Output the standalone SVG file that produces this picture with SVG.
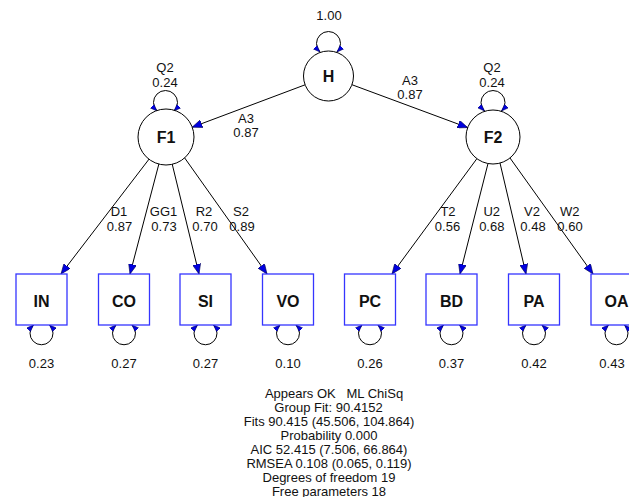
<svg xmlns="http://www.w3.org/2000/svg" width="629" height="497" viewBox="0 0 629 497">
<defs>
<marker id="ah" viewBox="0 0 10 8" refX="10" refY="4" markerWidth="10" markerHeight="8" markerUnits="userSpaceOnUse" orient="auto-start-reverse">
<path d="M0,0 L10,4 L0,8 Z" fill="#0000e0" stroke="#000050" stroke-width="0.6"/>
</marker>
<marker id="ls" viewBox="0 0 8 6" refX="8" refY="3" markerWidth="7" markerHeight="6" markerUnits="userSpaceOnUse" orient="auto-start-reverse">
<path d="M0,0 L8,3 L0,6 Z" fill="#0000e0" stroke="#000050" stroke-width="0.6"/>
</marker>
</defs>
<style>
text{font-family:"Liberation Sans",Arial,sans-serif;fill:#111}
.lb{font-size:13px;text-anchor:middle}
.nd{font-size:16px;font-weight:bold;text-anchor:middle}
.box{fill:#fff;stroke:#3535ff;stroke-width:1.3}
.circ{fill:#fff;stroke:#000;stroke-width:1}
.edge{fill:none;stroke:#000;stroke-width:1;marker-end:url(#ah)}
.loop{fill:none;stroke:#000;stroke-width:1;marker-start:url(#ls);marker-end:url(#ls)}
</style>
<rect width="629" height="497" fill="#fff"/>
<g id="connectors">
<path class="edge" d="M305.1,84.8 L192.2,127.2"/>
<path class="edge" d="M351.9,84.7 L467.7,127.6"/>
<path class="edge" d="M149.6,158.4 L61,274"/>
<path class="edge" d="M159,163.5 L130,274"/>
<path class="edge" d="M172,163.3 L199,274"/>
<path class="edge" d="M184,157 L267,274"/>
<path class="edge" d="M477,158.5 L392,274"/>
<path class="edge" d="M488,163.5 L460,274"/>
<path class="edge" d="M500,163 L526,274"/>
<path class="edge" d="M510,158 L593,274"/>
<path class="loop" d="M320,52 A12,12 0 1 1 337,52"/>
<path class="loop" d="M157,111 A12,12 0 1 1 174,111"/>
<path class="loop" d="M484.5,111 A12,12 0 1 1 501.5,111"/>
<path class="loop" d="M33.5,325 A11.5,11.5 0 1 0 49.5,325"/>
<path class="loop" d="M116,325 A11.5,11.5 0 1 0 132,325"/>
<path class="loop" d="M197.5,325 A11.5,11.5 0 1 0 213.5,325"/>
<path class="loop" d="M280,325 A11.5,11.5 0 1 0 296,325"/>
<path class="loop" d="M362,325 A11.5,11.5 0 1 0 378,325"/>
<path class="loop" d="M443.5,325 A11.5,11.5 0 1 0 459.5,325"/>
<path class="loop" d="M526,325 A11.5,11.5 0 1 0 542,325"/>
<path class="loop" d="M608.5,325 A11.5,11.5 0 1 0 624.5,325"/>
</g>
<g id="edge-labels">
<text class="lb" x="329" y="19.5">1.00</text>
<text class="lb" x="165" y="71.5">Q2</text>
<text class="lb" x="165" y="86.5">0.24</text>
<text class="lb" x="492" y="71.5">Q2</text>
<text class="lb" x="492" y="86.5">0.24</text>
<text class="lb" x="246" y="122.6">A3</text>
<text class="lb" x="246" y="136.6">0.87</text>
<text class="lb" x="410" y="84.6">A3</text>
<text class="lb" x="410" y="98.6">0.87</text>
<text class="lb" x="119" y="216.3">D1</text>
<text class="lb" x="119.5" y="230.7">0.87</text>
<text class="lb" x="163.5" y="216.3">GG1</text>
<text class="lb" x="164" y="230.7">0.73</text>
<text class="lb" x="204" y="216.3">R2</text>
<text class="lb" x="205" y="230.7">0.70</text>
<text class="lb" x="241" y="216.3">S2</text>
<text class="lb" x="242" y="230.7">0.89</text>
<text class="lb" x="448" y="216.3">T2</text>
<text class="lb" x="447.5" y="230.7">0.56</text>
<text class="lb" x="491.7" y="216.3">U2</text>
<text class="lb" x="491.8" y="230.7">0.68</text>
<text class="lb" x="532" y="216.3">V2</text>
<text class="lb" x="533" y="230.7">0.48</text>
<text class="lb" x="569.7" y="216.3">W2</text>
<text class="lb" x="570" y="230.7">0.60</text>
<text class="lb" x="41.5" y="368">0.23</text>
<text class="lb" x="124" y="368">0.27</text>
<text class="lb" x="205.5" y="368">0.27</text>
<text class="lb" x="288" y="368">0.10</text>
<text class="lb" x="370" y="368">0.26</text>
<text class="lb" x="451.5" y="368">0.37</text>
<text class="lb" x="534" y="368">0.42</text>
<text class="lb" x="612" y="368">0.43</text>
</g>
<g id="H"><circle class="circ" cx="328.5" cy="76" r="25"/><text class="nd" x="328.5" y="81.5">H</text></g>
<g id="F1"><circle class="circ" cx="166" cy="137" r="28"/><text class="nd" x="166" y="143">F1</text></g>
<g id="F2"><circle class="circ" cx="493" cy="137" r="27"/><text class="nd" x="493" y="143">F2</text></g>
<g id="IN"><rect class="box" x="16" y="274" width="51" height="51"/><text class="nd" x="41.5" y="307">IN</text></g>
<g id="CO"><rect class="box" x="98.5" y="274" width="51" height="51"/><text class="nd" x="124" y="307">CO</text></g>
<g id="SI"><rect class="box" x="180" y="274" width="51" height="51"/><text class="nd" x="205.5" y="307">SI</text></g>
<g id="VO"><rect class="box" x="262.5" y="274" width="51" height="51"/><text class="nd" x="288" y="307">VO</text></g>
<g id="PC"><rect class="box" x="344.5" y="274" width="51" height="51"/><text class="nd" x="370" y="307">PC</text></g>
<g id="BD"><rect class="box" x="426" y="274" width="51" height="51"/><text class="nd" x="451.5" y="307">BD</text></g>
<g id="PA"><rect class="box" x="508.5" y="274" width="51" height="51"/><text class="nd" x="534" y="307">PA</text></g>
<g id="OA"><rect class="box" x="591" y="274" width="51" height="51"/><text class="nd" x="616.5" y="307">OA</text></g>
<g id="fit-summary">
<text class="lb" x="334" y="397.7" xml:space="preserve">Appears OK   ML ChiSq</text>
<text class="lb" x="328.5" y="411.8">Group Fit: 90.4152</text>
<text class="lb" x="329" y="426">Fits 90.415 (45.506, 104.864)</text>
<text class="lb" x="329" y="439.8">Probability 0.000</text>
<text class="lb" x="329" y="454">AIC 52.415 (7.506, 66.864)</text>
<text class="lb" x="329" y="468">RMSEA 0.108 (0.065, 0.119)</text>
<text class="lb" x="329" y="481.6">Degrees of freedom 19</text>
<text class="lb" x="329" y="495.6">Free parameters 18</text>
</g>
</svg>
